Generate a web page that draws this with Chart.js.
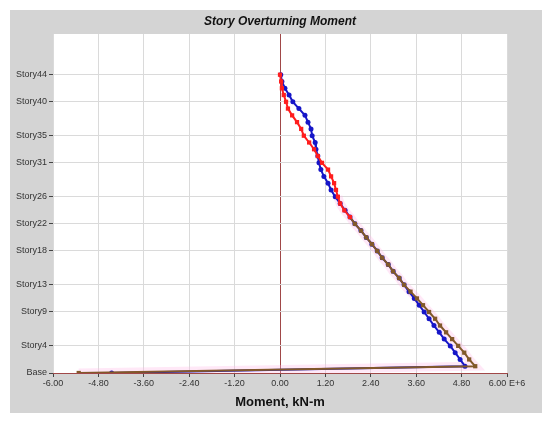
<!DOCTYPE html>
<html lang="en">
  <head>
    <meta charset="UTF-8" />
    <title>Story Overturning Moment</title>
    <script src="https://cdn.jsdelivr.net/npm/chart.js@4.4.0/dist/chart.umd.min.js"></script>
    <style>
      body {
        margin: 0;
        background: #ffffff;
      }
      #wrap {
        width: 550px;
        height: 422px;
      }
    </style>
  </head>
  <body>
    <div id="wrap">
      <canvas id="chart" width="550" height="422"></canvas>
    </div>

    <script>
      // story levels, top to bottom (0 = Base)
      const levels = [44, 43, 42, 41, 40, 39, 38, 37, 36, 35, 34, 33, 32, 31, 30, 29, 28, 27, 26, 25, 24, 23,
        22, 21, 20, 19, 18, 17, 16, 15, 14, 13, 12, 11, 10, 9, 8, 7, 6, 5, 4, 3, 2, 1, 0];

      // moment, E+6 kN-m
      const blueMoment = [0.02, 0.05, 0.13, 0.24, 0.34, 0.50, 0.66, 0.74, 0.82, 0.85, 0.93, 0.95, 1.00, 1.03,
        1.08, 1.16, 1.27, 1.35, 1.46, 1.59, 1.72, 1.85, 1.98, 2.14, 2.28, 2.43, 2.57, 2.70, 2.86, 2.99,
        3.15, 3.28, 3.41, 3.55, 3.68, 3.81, 3.94, 4.07, 4.21, 4.34, 4.50, 4.63, 4.76, 4.89, -4.45];
      const redMoment = [0.00, 0.03, 0.05, 0.10, 0.16, 0.21, 0.32, 0.45, 0.56, 0.63, 0.77, 0.90, 1.00, 1.11,
        1.27, 1.35, 1.43, 1.48, 1.53, 1.59, 1.70, 1.85, 1.98, 2.14, 2.28, 2.43, 2.57, 2.70, 2.86, 2.99,
        3.15, 3.28, 3.45, 3.62, 3.78, 3.94, 4.10, 4.23, 4.39, 4.55, 4.71, 4.87, 5.00, 5.16, -5.32];

      const storyTicks = [0, 4, 9, 13, 18, 22, 26, 31, 35, 40, 44];
      const storyNames = ["Base", "Story4", "Story9", "Story13", "Story18", "Story22", "Story26",
        "Story31", "Story35", "Story40", "Story44"];
      const momentTicks = [-6, -4.8, -3.6, -2.4, -1.2, 0, 1.2, 2.4, 3.6, 4.8, 6];

      const BLUE = "#1616c8";
      const RED = "#ff1e1e";
      const BROWN = "#82592a";
      const AXIS_RED = "#a04848";

      const bluePts = levels.map((s, i) => ({ x: blueMoment[i], y: s }));
      const redPts = levels.map((s, i) => ({ x: redMoment[i], y: s }));
      const haloPts = redPts.filter((p) => p.y <= 26);

      // grey panel, white plot area and the title centred over the plot
      const bgPlugin = {
        id: "bg",
        beforeDraw(chart) {
          const c = chart.ctx;
          const a = chart.chartArea;
          c.save();
          c.fillStyle = "#ffffff";
          c.fillRect(0, 0, chart.width, chart.height);
          c.fillStyle = "#d4d4d4";
          c.fillRect(10, 10, 532, 403);
          c.fillStyle = "#ffffff";
          c.fillRect(a.left, a.top, a.right - a.left, a.bottom - a.top);
          c.fillStyle = "#111";
          c.font = "italic bold 12px Arial";
          c.textAlign = "center";
          c.textBaseline = "middle";
          c.fillText("Story Overturning Moment", (a.left + a.right) / 2, 22);
          c.restore();
        },
      };

      new Chart(document.getElementById("chart"), {
        type: "scatter",
        data: {
          datasets: [
            {
              data: haloPts,
              showLine: true,
              borderColor: "rgba(255, 185, 230, 0.32)",
              borderWidth: 9,
              pointRadius: 0,
              order: 10,
            },
            {
              data: bluePts,
              showLine: true,
              borderColor: BLUE,
              backgroundColor: BLUE,
              borderWidth: 2,
              pointStyle: "circle",
              pointRadius: 2.5,
              pointBorderWidth: 0,
              order: 2,
            },
            {
              data: redPts,
              showLine: true,
              borderColor: RED,
              borderWidth: 2,
              pointStyle: "rect",
              pointRadius: 3,
              pointBorderWidth: 0,
              pointBackgroundColor: (ctx) => (ctx.raw && ctx.raw.y >= 23 ? RED : BROWN),
              segment: {
                borderColor: (ctx) => (ctx.p0.parsed.y > 23 ? RED : BROWN),
              },
              order: 1,
            },
          ],
        },
        options: {
          responsive: false,
          devicePixelRatio: 1,
          animation: false,
          layout: { padding: { top: 34, left: 10, right: 43, bottom: 9 } },
          plugins: {
            legend: { display: false },
            tooltip: { enabled: false },
          },
          scales: {
            x: {
              type: "linear",
              min: -6,
              max: 6,
              afterBuildTicks: (scale) => {
                scale.ticks = momentTicks.map((v) => ({ value: v }));
              },
              afterFit: (scale) => {
                scale.height = 40;
              },
              ticks: {
                color: "#333",
                font: { family: "Arial", size: 9 },
                padding: 1,
                maxRotation: 0,
                callback: (v) => (v === 6 ? "6.00 E+6" : v.toFixed(2)),
              },
              grid: {
                color: (ctx) => (ctx.tick && ctx.tick.value === 0 ? AXIS_RED : "#dadada"),
                tickColor: "#444",
                tickLength: 4,
              },
              border: { color: AXIS_RED, width: 1 },
              title: {
                display: true,
                text: "Moment, kN-m",
                color: "#111",
                font: { family: "Arial", size: 13, weight: "bold" },
                padding: { top: 0, bottom: 3 },
              },
            },
            y: {
              type: "linear",
              min: 0,
              max: 50,
              afterBuildTicks: (scale) => {
                scale.ticks = storyTicks.map((v) => ({ value: v }));
              },
              afterFit: (scale) => {
                scale.width = 43;
              },
              ticks: {
                color: "#333",
                font: { family: "Arial", size: 9 },
                padding: 2,
                callback: (v) => storyNames[storyTicks.indexOf(v)],
              },
              grid: {
                color: (ctx) => (ctx.tick && ctx.tick.value === 0 ? AXIS_RED : "#dadada"),
                tickColor: "#444",
                tickLength: 4,
              },
              border: { display: false },
            },
          },
        },
        plugins: [bgPlugin],
      });
    </script>
  </body>
</html>
